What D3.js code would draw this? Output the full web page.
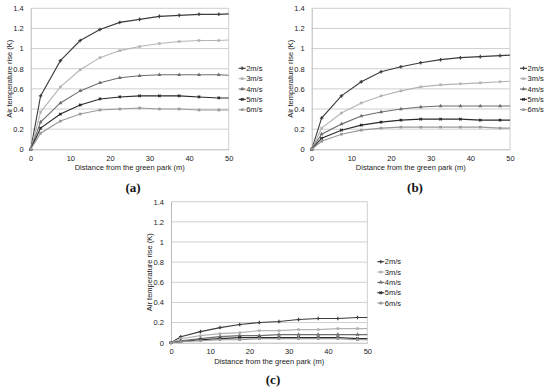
<!DOCTYPE html>
<html>
<head>
<meta charset="utf-8">
<script src="https://cdn.jsdelivr.net/npm/d3@7"></script>
<style>
    body { margin: 0; background: #fff; }
    text { font-family: Arial, "Liberation Sans", sans-serif; }
</style>
</head>
<body>
<div class="canvas"></div>
<script>
const distances = [0, 2.5, 7.5, 12.5, 17.5, 22.5, 27.5, 32.5, 37.5, 42.5, 47.5, 50];
const windSpeeds = ["2m/s", "3m/s", "4m/s", "5m/s", "6m/s"];
const xTicks = [0, 10, 20, 30, 40, 50];
const yTicks = [0, 0.2, 0.4, 0.6, 0.8, 1, 1.2, 1.4];

// panel (a)
const riseA2 = [0, 0.53, 0.88, 1.08, 1.19, 1.26, 1.29, 1.32, 1.33, 1.34, 1.34, 1.345];
const riseA3 = [0, 0.37, 0.62, 0.79, 0.91, 0.98, 1.02, 1.05, 1.07, 1.08, 1.08, 1.085];
const riseA4 = [0, 0.27, 0.46, 0.58, 0.66, 0.71, 0.73, 0.74, 0.74, 0.74, 0.74, 0.735];
const riseA5 = [0, 0.21, 0.35, 0.44, 0.50, 0.52, 0.53, 0.53, 0.53, 0.52, 0.51, 0.51];
const riseA6 = [0, 0.16, 0.28, 0.35, 0.39, 0.40, 0.41, 0.40, 0.40, 0.39, 0.39, 0.39];

// panel (b)
const riseB2 = [0, 0.31, 0.53, 0.67, 0.77, 0.82, 0.86, 0.89, 0.91, 0.92, 0.93, 0.935];
const riseB3 = [0, 0.21, 0.36, 0.46, 0.53, 0.58, 0.62, 0.64, 0.65, 0.66, 0.67, 0.675];
const riseB4 = [0, 0.15, 0.25, 0.33, 0.37, 0.40, 0.42, 0.43, 0.43, 0.43, 0.43, 0.43];
const riseB5 = [0, 0.11, 0.19, 0.24, 0.27, 0.29, 0.30, 0.30, 0.30, 0.29, 0.29, 0.29];
const riseB6 = [0, 0.08, 0.15, 0.19, 0.21, 0.22, 0.22, 0.22, 0.22, 0.22, 0.21, 0.21];

// panel (c)
const riseC2 = [0, 0.06, 0.11, 0.15, 0.18, 0.20, 0.21, 0.23, 0.24, 0.24, 0.25, 0.25];
const riseC3 = [0, 0.04, 0.07, 0.09, 0.10, 0.12, 0.12, 0.13, 0.13, 0.14, 0.14, 0.14];
const riseC4 = [0, 0.02, 0.04, 0.06, 0.07, 0.07, 0.08, 0.08, 0.08, 0.08, 0.08, 0.08];
const riseC5 = [0, 0.01, 0.03, 0.04, 0.05, 0.05, 0.05, 0.05, 0.05, 0.05, 0.04, 0.04];
const riseC6 = [0, 0.01, 0.02, 0.03, 0.03, 0.04, 0.04, 0.04, 0.04, 0.04, 0.03, 0.03];

const colors = ["#3c3c3c", "#b4b4b4", "#6e6e6e", "#2a2a2a", "#999999"];
const markers = [d3.symbolCross, d3.symbolSquare, d3.symbolTriangle, d3.symbolCross, d3.symbolSquare];
const fontFamily = "Arial, 'Liberation Sans', sans-serif";

const svg = d3.select(".canvas").append("svg")
    .attr("width", 550)
    .attr("height", 391);

function drawPanel(spec, series, label) {
    const x = d3.scaleLinear().domain([0, 50]).range([spec.left, spec.right]);
    const y = d3.scaleLinear().domain([0, 1.4]).range([spec.bottom, spec.top]);
    const g = svg.append("g");

    // grid
    g.selectAll(".grid")
        .data(yTicks.slice(1))
        .enter()
        .append("line")
        .attr("x1", spec.left)
        .attr("x2", spec.right)
        .attr("y1", d => y(d))
        .attr("y2", d => y(d))
        .style("stroke", "#cfcfcf")
        .style("stroke-width", 1);

    g.append("line")
        .attr("x1", spec.right).attr("x2", spec.right)
        .attr("y1", spec.top).attr("y2", spec.bottom)
        .style("stroke", "#cfcfcf");

    // axes
    const xAxis = d3.axisBottom(x).tickValues(xTicks).tickSize(0).tickPadding(6);
    const xAxisGroup = g.append("g").attr("transform", `translate(0, ${spec.bottom})`).call(xAxis);
    const yAxis = d3.axisLeft(y).tickValues(yTicks).tickSize(0).tickPadding(7).tickFormat(d3.format("~g"));
    const yAxisGroup = g.append("g").attr("transform", `translate(${spec.left}, 0)`).call(yAxis);
    [xAxisGroup, yAxisGroup].forEach(ag => {
        ag.attr("font-family", fontFamily);
        ag.select(".domain").style("stroke", "#b8b8b8");
        ag.selectAll("text").style("font-size", "7.5px").style("fill", "#222");
    });

    g.append("text")
        .attr("x", (spec.left + spec.right) / 2)
        .attr("y", spec.bottom + 21)
        .style("text-anchor", "middle")
        .style("font-size", "7.5px")
        .style("fill", "#222")
        .text("Distance from the green park (m)");

    g.append("text")
        .attr("transform", "rotate(-90)")
        .attr("x", -(spec.top + spec.bottom) / 2)
        .attr("y", spec.left - 19)
        .style("text-anchor", "middle")
        .style("font-size", "7.5px")
        .style("fill", "#222")
        .text("Air temperature rise (K)");

    // lines
    const line = d3.line()
        .x((d, i) => x(distances[i]))
        .y(d => y(d));

    series.forEach((values, k) => {
        g.append("path")
            .datum(values)
            .attr("d", line)
            .style("fill", "none")
            .style("stroke", colors[k])
            .style("stroke-width", 1.1);

        g.selectAll(`.mark${k}`)
            .data(values.slice(0, values.length - 1))
            .enter()
            .append("path")
            .attr("transform", (d, i) => `translate(${x(distances[i])}, ${y(d)})` + (k === 3 ? " rotate(45)" : ""))
            .attr("d", d3.symbol().type(markers[k]).size(7))
            .style("fill", colors[k]);
    });

    // legend
    const legendGroup = g.append("g").attr("transform", `translate(${spec.right + 10}, ${spec.legendY})`);
    const gap = 10.35;
    windSpeeds.forEach((name, k) => {
        legendGroup.append("line")
            .attr("x1", 0).attr("x2", 7)
            .attr("y1", k * gap).attr("y2", k * gap)
            .style("stroke", colors[k])
            .style("stroke-width", 1.1);
        legendGroup.append("path")
            .attr("transform", `translate(3.5, ${k * gap})` + (k === 3 ? " rotate(45)" : ""))
            .attr("d", d3.symbol().type(markers[k]).size(7))
            .style("fill", colors[k]);
        legendGroup.append("text")
            .attr("x", 7.5)
            .attr("y", k * gap)
            .attr("dy", "0.35em")
            .style("font-size", "7.5px")
            .style("fill", "#222")
            .text(name);
    });

    svg.append("text")
        .attr("x", spec.labelX)
        .attr("y", spec.labelY)
        .style("text-anchor", "middle")
        .style("font-family", "'Liberation Serif', 'DejaVu Serif', serif")
        .style("font-weight", "bold")
        .style("font-size", "13px")
        .style("fill", "#111")
        .text(label);
}

drawPanel({left: 30.7, right: 228.7, top: 8.3, bottom: 149.3, legendY: 68.3, labelX: 133, labelY: 192},
    [riseA2, riseA3, riseA4, riseA5, riseA6], "(a)");
drawPanel({left: 311.7, right: 510, top: 8.3, bottom: 149.3, legendY: 68.3, labelX: 415, labelY: 192},
    [riseB2, riseB3, riseB4, riseB5, riseB6], "(b)");
drawPanel({left: 171, right: 367.3, top: 201.7, bottom: 342.7, legendY: 261.7, labelX: 273, labelY: 384},
    [riseC2, riseC3, riseC4, riseC5, riseC6], "(c)");
</script>
</body>
</html>
